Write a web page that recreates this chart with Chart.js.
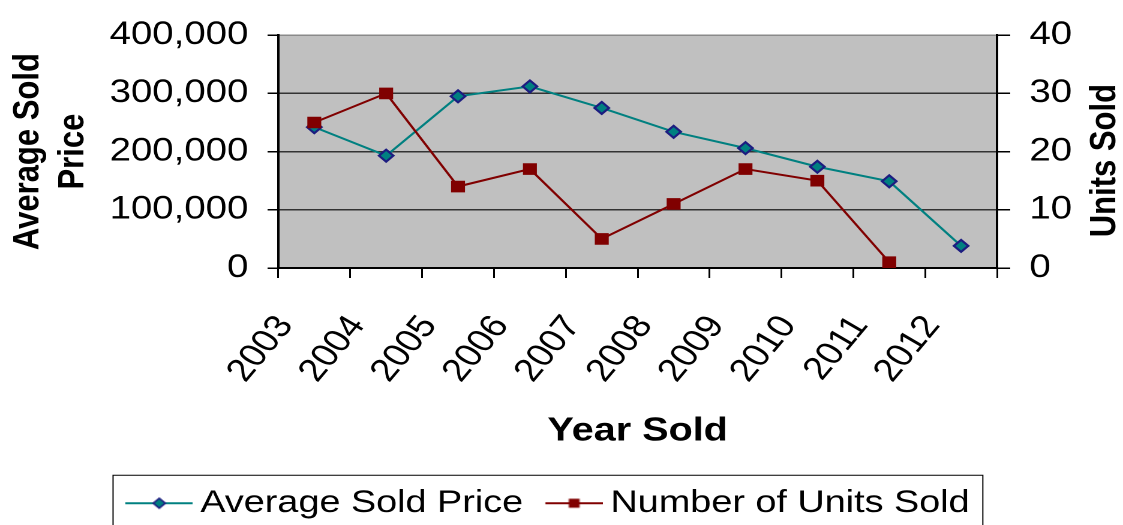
<!DOCTYPE html>
<html><head><meta charset="utf-8">
<script src="https://cdn.jsdelivr.net/npm/chart.js@4/dist/chart.umd.min.js"></script>
<style>
html,body{margin:0;padding:0;background:#fff;overflow:hidden;}
#wrap{width:936px;height:525px;transform:scaleX(1.19979);transform-origin:0 0;}
canvas{display:block;}
</style></head><body>
<div id="wrap"><canvas id="c" width="936" height="525"></canvas></div>
<script>
// ---- data ----
const years = ['2003','2004','2005','2006','2007','2008','2009','2010','2011','2012'];
const avgPrice = [242000, 193000, 295000, 312000, 275000, 234000, 206000, 174000, 149000, 38000];
const unitsSold = [25, 30, 14, 17, 5, 11, 17, 15, 1, null];
const priceRange = [0, 400000, 100000];
const unitsRange = [0, 40, 10];
const seriesNames = ['Average Sold Price', 'Number of Units Sold'];
const xTitle = 'Year Sold';
const leftTitle = ['Average Sold', 'Price'];
const rightTitle = 'Units Sold';

const FAM = '"Liberation Sans", Arial, Helvetica, sans-serif';
Chart.defaults.font.family = FAM;
Chart.defaults.color = '#000';

const TEAL = '#008080', NAVY = '#1c1c80', MAROON = '#800000';

function sample(kind) {
  const w = 56;
  const c = document.createElement('canvas');
  c.width = w; c.height = 16;
  const g = c.getContext('2d');
  const x0 = kind === 0 ? 0 : 8;
  const m = (x0 + w) / 2;
  g.strokeStyle = kind === 0 ? TEAL : MAROON;
  g.lineWidth = 2;
  g.beginPath(); g.moveTo(x0, 8); g.lineTo(w, 8); g.stroke();
  if (kind === 0) {
    g.fillStyle = TEAL; g.strokeStyle = NAVY; g.lineWidth = 1.5;
    g.beginPath(); g.moveTo(m, 3); g.lineTo(m + 5, 8); g.lineTo(m, 13); g.lineTo(m - 5, 8); g.closePath();
    g.fill(); g.stroke();
  } else {
    g.fillStyle = MAROON; g.fillRect(m - 4.5, 3.5, 9, 9);
  }
  return c;
}
const legendImgs = [sample(0), sample(1)];

const decor = {
  id: 'decor',
  beforeDraw(chart) {
    const {ctx, chartArea: a} = chart;
    ctx.save();
    ctx.fillStyle = '#fff'; ctx.fillRect(0, 0, chart.width, chart.height);
    ctx.fillStyle = '#C0C0C0'; ctx.fillRect(a.left, a.top, a.right - a.left, a.bottom - a.top);
    ctx.restore();
  },
  afterDraw(chart) {
    const {ctx, chartArea: a} = chart;
    ctx.save();
    ctx.translate(chart.width - 15, (a.top + a.bottom) / 2 + 9);
    ctx.rotate(-Math.PI / 2);
    ctx.font = 'bold 31px ' + FAM;
    ctx.textAlign = 'center'; ctx.textBaseline = 'middle'; ctx.fillStyle = '#000';
    ctx.fillText(rightTitle, 0, 0);
    ctx.restore();
    const hb = chart.legend.legendHitBoxes;
    if (hb && hb.length) {
      const last = hb[hb.length - 1];
      const l = hb[0].left - 20;
      const r = last.left + last.width + 11;
      const t = hb[0].top + hb[0].height / 2 - 28;
      ctx.save();
      ctx.strokeStyle = '#000'; ctx.lineWidth = 1;
      ctx.strokeRect(l, t, r - l, chart.height + 10 - t);
      ctx.restore();
    }
  }
};

new Chart(document.getElementById('c'), {
  type: 'line',
  data: {
    labels: years,
    datasets: [
      {
        label: seriesNames[0], data: avgPrice, yAxisID: 'y', order: 1,
        borderColor: TEAL, borderWidth: 2, tension: 0,
        pointStyle: 'rectRot', pointRadius: 6, pointHoverRadius: 6,
        pointBackgroundColor: TEAL, pointBorderColor: NAVY, pointBorderWidth: 2
      },
      {
        label: seriesNames[1], data: unitsSold, yAxisID: 'y1', order: 0,
        borderColor: MAROON, borderWidth: 2, tension: 0, spanGaps: false,
        pointStyle: 'rect', pointRadius: 7.5, pointHoverRadius: 7.5,
        pointBackgroundColor: MAROON, pointBorderColor: MAROON, pointBorderWidth: 1
      }
    ]
  },
  options: {
    responsive: false,
    animation: false,
    devicePixelRatio: 2,
    layout: { padding: { top: 30, left: 0, right: 13.6, bottom: -4 } },
    plugins: {
      tooltip: { enabled: false },
      legend: {
        position: 'bottom',
        labels: {
          usePointStyle: true,
          pointStyleWidth: 37,
          padding: 20,
          font: { size: 31.5 },
          color: '#000',
          sort: (a, b) => a.datasetIndex - b.datasetIndex,
          generateLabels(chart) {
            const items = Chart.defaults.plugins.legend.labels.generateLabels(chart);
            items.forEach(it => { it.pointStyle = legendImgs[it.datasetIndex]; });
            return items;
          }
        }
      }
    },
    scales: {
      x: {
        type: 'category',
        offset: true,
        grid: { offset: true, drawOnChartArea: false, drawTicks: true, tickLength: 10, color: '#000', lineWidth: 1.5 },
        border: { display: true, color: '#000', width: 2 },
        ticks: { autoSkip: false, minRotation: 55, maxRotation: 55, padding: 31, labelOffset: -24, font: { size: 32 }, color: '#000' },
        title: { display: true, text: xTitle, font: { size: 33, weight: 'bold' }, padding: { top: 0, bottom: 16.5 }, color: '#000' },
        afterFit(s) { s.height = 199.5; }
      },
      y: {
        position: 'left',
        min: priceRange[0], max: priceRange[1],
        ticks: { stepSize: priceRange[2], padding: 16, font: { size: 32 }, color: '#000',
                 callback: v => Number(v).toLocaleString('en-US') },
        grid: { drawOnChartArea: true, tickLength: 9, tickColor: '#000', lineWidth: 1.5,
                color: c => (c.tick && c.tick.value === priceRange[1]) ? '#8a8a8a' : '#333' },
        border: { color: '#000', width: 2 },
        title: { display: true, text: leftTitle, font: { size: 31, weight: 'bold' }, padding: { top: 5, bottom: 0 }, color: '#000' },
        afterFit(s) { s.width = 232; }
      },
      y1: {
        position: 'right',
        min: unitsRange[0], max: unitsRange[1],
        ticks: { stepSize: unitsRange[2], padding: 16, font: { size: 32 }, color: '#000' },
        grid: { drawOnChartArea: false, tickLength: 11, color: '#000', lineWidth: 1.5 },
        border: { color: '#000', width: 2 },
        afterFit(s) { s.width = 91.4; }
      }
    }
  },
  plugins: [decor]
});
</script>
</body></html>
